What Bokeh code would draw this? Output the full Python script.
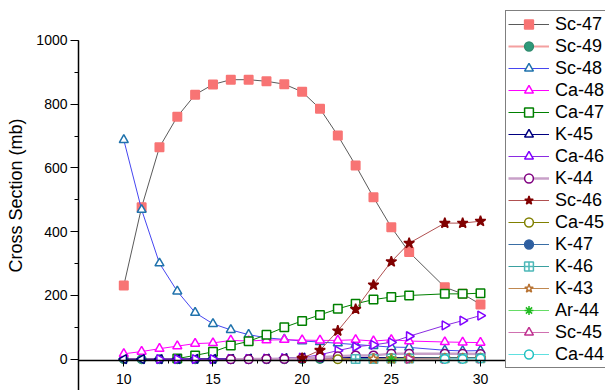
import math
from bokeh.plotting import figure
from bokeh.models import Range1d, SingleIntervalTicker, FixedTicker, Legend, LegendItem
from bokeh.embed import file_html
from bokeh.resources import INLINE

nan = float("nan")

# ---- data ----
energy = [10, 11, 12, 13, 14, 15, 16, 17, 18, 19, 20, 21, 22, 23, 24, 25, 26, 28, 29, 30]

sc47 = [231, 477, 665, 761, 830, 862, 877, 877, 872, 863, 839, 786, 702, 608, 508, 414, 336, 226, 205, 172]
sc49 = [0, 0, 0, 0, 0, 0, 0, 0, 0, 0, 0, 1, 1, 2, 2, 3, 3, 4, 4, 4]
sc48 = [688, 469, 301, 213, 146, 111, 92, 77, 67, 62, 57, 54, 50, 46, 42, 38, 37, 28, 26, 27]
ca48 = [17, 24, 33, 41, 49, 51, 59, 57, 60, 61, 60, 59, 59, 61, 57, 61, 57, 54, 53, 52]
ca47 = [nan, nan, nan, 2, 12, 23, 43, 56, 77, 100, 120, 139, 158, 174, 187, 195, 200, 205, 205, 207]
k45 = [0, 0, 0, 0, 1, 1, 1, 2, 2, 3, 5, 5, 5, 5, 5, 5, 5, 5, 5, 5]
ca46 = [nan, nan, 0, 0, 0, 0, 1, 1, 2, 3, 5, 14, 27, 39, 45, 53, 72, 106, 121, 137]
k44 = [nan, nan, nan, nan, nan, nan, 0, 0, 1, 1, 3, 6, 9, 12, 12, 17, 17, 17, 17, 16]
sc46 = [nan, nan, nan, nan, nan, nan, nan, nan, nan, nan, 3, 28, 89, 157, 233, 306, 364, 427, 427, 433]
ca45 = [nan, nan, nan, nan, nan, nan, nan, nan, nan, nan, nan, nan, 0, 1, 2, 3, 3, 4, 4, 4]
k47 = [nan, nan, nan, nan, nan, nan, nan, nan, nan, nan, nan, nan, nan, 1, 2, 2, 3, 3, 4, 4]
k46 = [nan, nan, nan, nan, nan, nan, nan, nan, nan, nan, nan, nan, nan, 1, 1, 2, 2, 3, 3, 3]
k43 = [nan, nan, nan, nan, nan, nan, nan, nan, nan, nan, nan, nan, nan, nan, 1, 1, 2, 2, 2, 3]
ar44 = [nan, nan, nan, nan, nan, nan, nan, nan, nan, nan, nan, nan, nan, nan, nan, 0, 1, 1, 1, 2]
sc45 = [nan, nan, nan, nan, nan, nan, nan, nan, nan, nan, nan, nan, nan, nan, nan, nan, 1, 1, 2, 2]
ca44 = [nan, nan, nan, nan, nan, nan, nan, nan, nan, nan, nan, nan, nan, nan, nan, nan, nan, 1, 1, 2]

labels = ["Sc-47", "Sc-49", "Sc-48", "Ca-48", "Ca-47", "K-45", "Ca-46", "K-44",
          "Sc-46", "Ca-45", "K-47", "K-46", "K-43", "Ar-44", "Sc-45", "Ca-44"]
series = [sc47, sc49, sc48, ca48, ca47, k45, ca46, k44, sc46, ca45, k47, k46, k43, ar44, sc45, ca44]

x_major = [10, 15, 20, 25, 30]
x_minor = [12.5, 17.5, 22.5, 27.5]

# ---- styles: (line color, line width, marker, marker line color, marker fill, angle) ----
R = math.pi / 2
styles = [
    ("#5a5a5a", 1.0, "square", "#f87474", "#f87474", 0),
    ("#f4a0a0", 2.0, "circle", "#2e8b6e", "#2e9a7a", 0),
    ("#4646f0", 1.0, "triangle", "#1f72ac", "white", 0),
    ("#ff00ff", 1.0, "triangle", "#ff00ff", "white", 0),
    ("#008000", 1.0, "square", "#008000", "white", 0),
    ("#000080", 1.2, "triangle", "#000080", "white", R),
    ("#8a2be2", 1.0, "triangle", "#8000ff", "white", -R),
    ("#c8a0c8", 2.5, "circle", "#800080", "white", 0),
    ("#b05050", 1.0, "star", "#800000", "#800000", 0),
    ("#808000", 1.0, "circle", "#808000", "white", 0),
    ("#3a6ea5", 1.0, "circle", "#2e5fa0", "#2e5fa0", 0),
    ("#3aa0a0", 1.0, "square_cross", "#4db8b8", "white", 0),
    ("#c08850", 1.0, "star", "#b87333", "white", 0),
    ("#66dd66", 1.0, "asterisk", "#22bb22", "white", 0),
    ("#d070b0", 1.0, "triangle", "#c03090", "white", -R),
    ("#60e0e0", 1.0, "circle", "#20c0c0", "white", 0),
]

FONT = "Liberation Sans"

p = figure(width=605, height=390, output_backend="svg", toolbar_location=None,
           x_range=Range1d(7.46, 37.01), y_range=Range1d(-98.2, 1125.5),
           min_border_left=78, min_border_right=0, min_border_top=0, min_border_bottom=0)
p.outline_line_color = None
p.xgrid.visible = False
p.ygrid.visible = False
p.background_fill_color = "white"
p.border_fill_color = "white"

items = []
for lab, vals, st in zip(labels, series, styles):
    lc, lw, mk, mlc, mfc, ang = st
    l = p.line(energy, vals, line_color=lc, line_width=lw)
    size = 9 if mk == "triangle" else 8.5
    if mk == "star":
        size = 11
    s = p.scatter(energy, vals, marker=mk, size=size, line_color=mlc, fill_color=mfc,
                  line_width=1.5, angle=ang)
    items.append(LegendItem(label=lab, renderers=[l, s]))

# axes
xa = p.xaxis[0]
xa.fixed_location = -5
xa.ticker = FixedTicker(ticks=x_major, minor_ticks=x_minor)
xa.major_tick_out = 6
xa.major_tick_in = 0
xa.minor_tick_out = 3
xa.minor_tick_in = 0
xa.major_label_standoff = 7
xa.major_label_text_font = FONT
xa.major_label_text_font_size = "14px"
xa.major_label_text_color = "black"
xa.axis_line_color = "black"
xa.axis_line_width = 1.5

ya = p.yaxis[0]
ya.bounds = (-98.2, 1000)
ya.ticker = SingleIntervalTicker(interval=200, num_minor_ticks=2)
ya.major_tick_out = 8
ya.major_tick_in = 0
ya.minor_tick_out = 4
ya.minor_tick_in = 0
ya.major_label_standoff = 3
ya.major_label_text_font = FONT
ya.major_label_text_font_size = "14px"
ya.major_label_text_color = "black"
ya.axis_label = "Cross Section (mb)"
ya.axis_label_text_font = FONT
ya.axis_label_text_font_size = "18px"
ya.axis_label_text_font_style = "normal"
ya.axis_label_text_color = "black"
ya.axis_label_standoff = 7
ya.axis_line_color = "black"
ya.axis_line_width = 1.5

legend = Legend(items=items, location=(427, 22))
legend.label_text_font = FONT
legend.label_text_font_size = "18px"
legend.label_text_color = "black"
legend.glyph_width = 41
legend.glyph_height = 22
legend.label_height = 22
legend.label_standoff = 6
legend.spacing = 0
legend.padding = 2
legend.margin = 0
legend.border_line_color = "black"
legend.border_line_width = 1
legend.background_fill_color = "white"
legend.background_fill_alpha = 1.0
p.add_layout(legend)

open("out.html", "w").write(file_html(p, INLINE))
